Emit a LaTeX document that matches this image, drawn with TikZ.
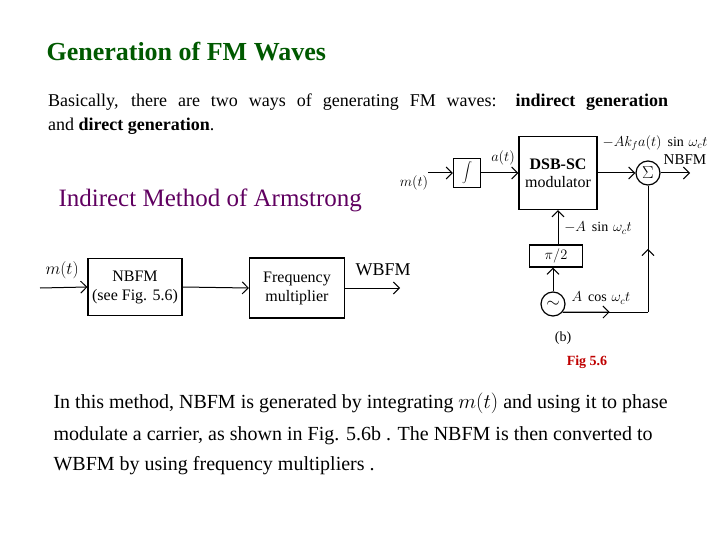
\documentclass[tikz,border=0pt]{standalone}
\usepackage{fontspec}
\setmainfont{Liberation Serif}
\usetikzlibrary{arrows.meta,calc}
\begin{document}
\begin{tikzpicture}[x=1pt,y=-1pt,
 blk/.style={draw,line width=1.2pt,align=center,inner sep=0pt},
 sig/.style={-{Straight Barb[length=6pt]},line width=1pt},
 lbl/.style={inner sep=1pt,font=\fontsize{14}{15}\selectfont}]
\useasboundingbox (0,0) rectangle (720,540);
% texts
\node[anchor=west,text=green!35!black,font=\fontsize{26}{28}\selectfont\bfseries] (title) at (43,52) {Generation of FM Waves};
\node[anchor=west,font=\fontsize{18}{24}\selectfont,text width=620pt,align=justify,inner sep=0pt] (p1) at (48,114) {Basically, there are two ways of generating FM waves: \textbf{indirect generation}\linebreak and \textbf{direct generation}.};
\node[anchor=west,text=violet!75!black,font=\fontsize{25}{27}\selectfont] (arm) at (55,200) {Indirect Method of Armstrong};
\node[anchor=west,font=\fontsize{20}{22}\selectfont] (q1) at (50,403) {In this method, NBFM is generated by integrating $m(t)$ and using it to phase};
\node[anchor=west,font=\fontsize{20}{22}\selectfont] (q2) at (50,436) {modulate a carrier, as shown in Fig. 5.6b . The NBFM is then converted to};
\node[anchor=west,font=\fontsize{20}{22}\selectfont] (q3) at (50,466) {WBFM by using frequency multipliers .};
% left diagram
\node[blk,minimum width=94pt,minimum height=57pt,font=\fontsize{16}{19}\selectfont] (nb) at (135,287) {NBFM\\(see Fig. 5.6)};
\node[blk,minimum width=95pt,minimum height=60pt,font=\fontsize{16}{19}\selectfont] (fm) at (297,288) {Frequency\\multiplier};
\coordinate (in1) at (40,288);
\coordinate (out1) at (400,288);
\draw[sig] (in1) -- (nb.west);
\draw[sig] (nb.east) -- (fm.west);
\draw[sig] (fm.east) -- (out1);
\node[anchor=west,font=\fontsize{18}{20}\selectfont] (mt1) at (42,270) {$m(t)$};
\node[anchor=west,font=\fontsize{18}{20}\selectfont] (wb) at (352,270) {WBFM};
% right diagram
\node[blk,minimum width=27pt,minimum height=29pt,font=\fontsize{20}{22}\selectfont] (int) at (467,173) {$\displaystyle\int$};
\node[blk,minimum width=78pt,minimum height=73pt,font=\fontsize{16}{18}\selectfont] (dsb) at (558,173) {\textbf{DSB-SC}\\modulator};
\node[blk,circle,minimum size=24pt,font=\fontsize{16}{18}\selectfont] (sum) at (648,173) {$\Sigma$};
\node[blk,minimum width=53pt,minimum height=22pt,font=\fontsize{15}{17}\selectfont] (pi) at (556,256) {$\pi/2$};
\node[blk,circle,minimum size=24pt,font=\fontsize{16}{18}\selectfont] (osc) at (553,304) {$\sim$};
\coordinate (in2) at (428,173);
\coordinate (out2) at (690,173);
\coordinate (corner) at (osc.-40 -| sum.south);
\draw[sig] (in2) -- (int.west);
\draw[sig] (int.east) -- (dsb.west);
\draw[sig] (dsb.east) -- (sum.west);
\draw[sig] (sum.east) -- (out2);
\draw[sig] (pi.north -| dsb.south) -- (dsb.south);
\draw[sig] (osc.north) -- (osc.north |- pi.south);
\draw[line width=1pt] (osc.-40) -- (corner);
\draw[line width=1pt] (corner) -- (sum.south);
\draw[sig] (corner) -- ($(corner)!0.5!(sum.south)$);
\draw[sig] (osc.-40) -- ($(osc.-40)!0.55!(corner)$);
\node[lbl] (mt2) at (414,183) {$m(t)$};
\node[lbl] (at) at (503,158) {$a(t)$};
\node[lbl] (top) at (655,143) {$-Ak_fa(t)\ \sin\,\omega_ct$};
\node[lbl,font=\fontsize{15}{16}\selectfont] (nbfm) at (685,160) {NBFM};
\node[lbl] (asin) at (598,228) {$-A\ \sin\,\omega_ct$};
\node[lbl] (acos) at (601,298) {$A\ \cos\,\omega_ct$};
\node[lbl] (b) at (563,338) {(b)};
\node[text=red!75!black,font=\fontsize{14}{15}\selectfont\bfseries] (fig) at (587,362) {Fig 5.6};
\end{tikzpicture}
\end{document}
